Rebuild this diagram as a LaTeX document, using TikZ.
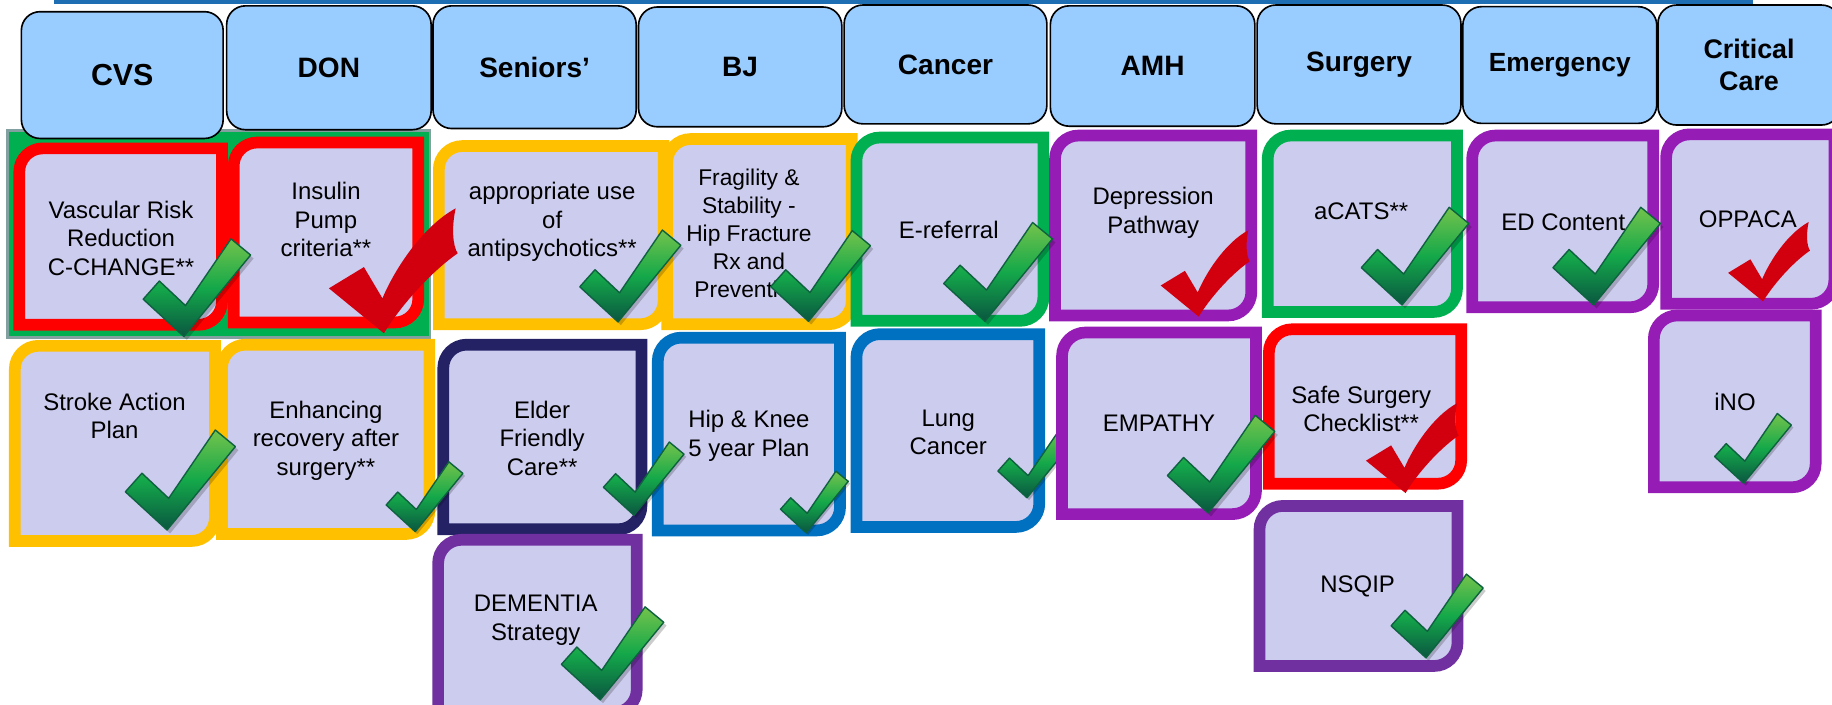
\documentclass[tikz,border=0pt]{standalone}
\usepackage{fontspec}
\setmainfont{Liberation Sans}

\definecolor{topbar}{RGB}{30,110,180}
\definecolor{hdrblue}{RGB}{153,204,255}
\definecolor{lav}{RGB}{204,204,238}
\definecolor{cred}{RGB}{255,0,0}
\definecolor{cyellow}{RGB}{255,192,0}
\definecolor{cgreen}{RGB}{0,176,80}
\definecolor{cviolet}{RGB}{150,28,182}
\definecolor{cpurple}{RGB}{112,48,160}
\definecolor{cnavy}{RGB}{36,33,100}
\definecolor{cblue}{RGB}{0,112,192}
\definecolor{bgedge}{RGB}{130,160,160}
\definecolor{tickred}{RGB}{210,0,15}
\definecolor{ticklight}{RGB}{115,195,75}
\definecolor{tickmid}{RGB}{20,168,74}
\definecolor{tickdark}{RGB}{10,86,64}
\definecolor{tickedge}{RGB}{14,98,64}

% card frame: colour, outer x1, y1, x2, y2 (rounded top-left and bottom-right corners)
\newcommand{\cardframe}[5]{%
  \pgfmathsetmacro{\cxa}{#2+5}\pgfmathsetmacro{\cya}{#3+5}%
  \pgfmathsetmacro{\cxb}{#4-5}\pgfmathsetmacro{\cyb}{#5-5}%
  \draw[cardline, draw=#1] (\cxa,\cyb) -- (\cxa,\cya+20)
    .. controls (\cxa,\cya+9) and (\cxa+9,\cya) .. (\cxa+20,\cya)
    -- (\cxb,\cya) -- (\cxb,\cyb-20)
    .. controls (\cxb,\cyb-9) and (\cxb-9,\cyb) .. (\cxb-20,\cyb) -- cycle;}

% header box: [options] name, x1, y1, x2, y2, text
\newcommand{\hdrbox}[7][]{%
  \pgfmathsetmacro{\hw}{#5-#3}\pgfmathsetmacro{\hh}{#6-#4}%
  \node[hdr, minimum width=\hw pt, minimum height=\hh pt, #1] (#2)
    at ({(#3+#5)/2},{(#4+#6)/2}) {#7};}

% outline of the green tick, tip at the origin, height 1
\def\gtickpath{(0,0) -- (-0.415,-0.38) -- (-0.25,-0.565) -- (0.016,-0.315)
      -- (0.48,-0.995) -- (0.68,-0.83) -- cycle}

\tikzset{
  hdr/.style={draw=black, line width=1.4pt, fill=hdrblue, rounded corners=16pt,
    inner sep=0pt, align=center, font=\bfseries\fontsize{24}{28}\selectfont},
  cardline/.style={line width=10pt, fill=lav, line join=miter},
  cardtext/.style={align=center, inner sep=0pt, font=\fontsize{20.5}{24.5}\selectfont},
  gtick/.pic={
    \fill[black, opacity=0.2, shift={(0.03,0.035)}] \gtickpath;
    \draw[tickedge, line width=1.2pt, line join=round,
      top color=ticklight, bottom color=tickdark, middle color=tickmid] \gtickpath;
  },
  rtick/.pic={
    \fill[tickred] (0,0) -- (-0.44,-0.36) -- (-0.16,-0.53) -- (-0.012,-0.28)
      .. controls (0.08,-0.50) and (0.30,-0.85) .. (0.574,-1.0)
      .. controls (0.54,-0.85) and (0.55,-0.70) .. (0.59,-0.64)
      .. controls (0.36,-0.48) and (0.12,-0.20) .. (0,0) -- cycle;
  }
}

\begin{document}
\begin{tikzpicture}[x=1pt, y=-1pt]
\useasboundingbox (0,0) rectangle (1568,603);
\clip (0,0) rectangle (1568,603);

% thin banner line along the top
\fill[topbar] (46,0) rectangle (1500,3.6);

% green panel behind the first two cards
\draw[fill=cgreen, draw=bgedge, line width=2.5pt] (6.5,112) rectangle (368,289);

% column headers
\hdrbox[font=\bfseries\fontsize{26}{30}\selectfont]{hcvs}{18.3}{10}{191}{118.5}{CVS}
\hdrbox{hdon}{194}{5}{369}{111}{DON}
\hdrbox{hsen}{370.6}{5}{544.5}{110}{Seniors’}
\hdrbox{hbj}{546.5}{6}{720.5}{108.5}{BJ}
\hdrbox{hcan}{722.5}{4.3}{896}{106}{Cancer}
\hdrbox{hamh}{899}{5}{1074}{108}{AMH}
\hdrbox{hsurg}{1076}{4.3}{1250.4}{106}{Surgery}
\hdrbox[font=\bfseries\fontsize{22.5}{26}\selectfont]{hemerg}{1252}{5.7}{1418}{105.6}{Emergency}
\hdrbox[font=\bfseries\fontsize{23}{27}\selectfont]{hcrit}{1419}{4.3}{1575}{107}{Critical\\Care}

% first row of cards
\cardframe{cred}{11.5}{122}{195}{283}
\node[cardtext] (vasc) at (103.6,204) {Vascular Risk\\Reduction\\C-CHANGE**};
\cardframe{cred}{195}{117}{363}{281}
\node[cardtext] (insulin) at (279,188) {Insulin\\Pump\\criteria**};
\cardframe{cyellow}{370.6}{120}{573}{282.5}
\node[cardtext] (antipsy) at (472.6,190) {appropriate use\\of\\antipsychotics**};
\cardframe{cyellow}{566}{114}{734}{282.5}
\node[cardtext, font=\fontsize{19.5}{24}\selectfont] (fragility) at (641,200)
  {Fragility \&\\Stability -\\Hip Fracture\\Rx and\\Prevention};
\cardframe{cgreen}{728}{112.7}{898}{279.6}
\node[cardtext] (eref) at (812,197) {E-referral};
\cardframe{cviolet}{898}{111}{1076}{275}
\node[cardtext] (depress) at (987,182) {Depression\\Pathway};
\cardframe{cgreen}{1080}{111}{1252}{272}
\node[cardtext] (acats) at (1165,181) {aCATS**};
\cardframe{cviolet}{1255}{111}{1420}{268}
\node[cardtext] (edcont) at (1338,190.6) {ED Content};
\cardframe{cviolet}{1421}{110}{1575}{265}
\node[cardtext] (oppaca) at (1496,188) {OPPACA};

% second row of cards
\cardframe{cyellow}{7.7}{291}{189}{468}
\node[cardtext] (stroke) at (98,356) {Stroke Action\\Plan};
\cardframe{cyellow}{185}{290}{372.5}{462}
\node[cardtext] (eras) at (279,377) {Enhancing\\recovery after\\surgery**};
\cardframe{cnavy}{374.4}{290}{554}{458}
\node[cardtext] (elder) at (464,375) {Elder\\Friendly\\Care**};
\cardframe{cblue}{558}{284}{724}{459}
\node[cardtext] (hipknee) at (641,373) {Hip \& Knee\\5 year Plan};
\cardframe{cblue}{728}{281}{894.5}{456}
\node[cardtext] (lung) at (811.6,370) {Lung\\Cancer};
\pic[scale=60] at (879,426) {gtick};
\cardframe{cviolet}{904}{279.6}{1080}{445}
\node[cardtext] (empathy) at (992,362) {EMPATHY};
\cardframe{cred}{1081}{276.8}{1255.6}{419}
\node[cardtext] (safesurg) at (1165,350) {Safe Surgery\\Checklist**};
\cardframe{cviolet}{1410.5}{265}{1559}{422}
\node[cardtext] (ino) at (1485,344) {iNO};

% third row of cards
\cardframe{cpurple}{370}{457}{550}{615}
\node[cardtext] (dementia) at (458.5,531) {DEMENTIA\\Strategy};
\cardframe{cpurple}{1073}{428}{1252.5}{575}
\node[cardtext] (nsqip) at (1162,502) {NSQIP};

% status ticks
\pic[scale=84] at (157.4,288) {gtick};
\pic[scale=107] at (328.6,285.3) {rtick};
\pic[scale=79] at (529,275.5) {gtick};
\pic[scale=78] at (692,275) {gtick};
\pic[scale=85] at (843,275) {gtick};
\pic[scale=74] at (1026,271) {rtick};
\pic[scale=84] at (1200,261) {gtick};
\pic[scale=84] at (1364,261) {gtick};
\pic[scale=68] at (1509,258) {rtick};
\pic[scale=86] at (143,453.6) {gtick};
\pic[scale=60] at (355.4,455) {gtick};
\pic[scale=63] at (542.6,441) {gtick};
\pic[scale=53] at (690,456) {gtick};
\pic[scale=84] at (1034,439) {gtick};
\pic[scale=77] at (1203,422) {rtick};
\pic[scale=60] at (1492.4,413.6) {gtick};
\pic[scale=80] at (513.7,599) {gtick};
\pic[scale=72] at (1220.5,563) {gtick};
\end{tikzpicture}
\end{document}
